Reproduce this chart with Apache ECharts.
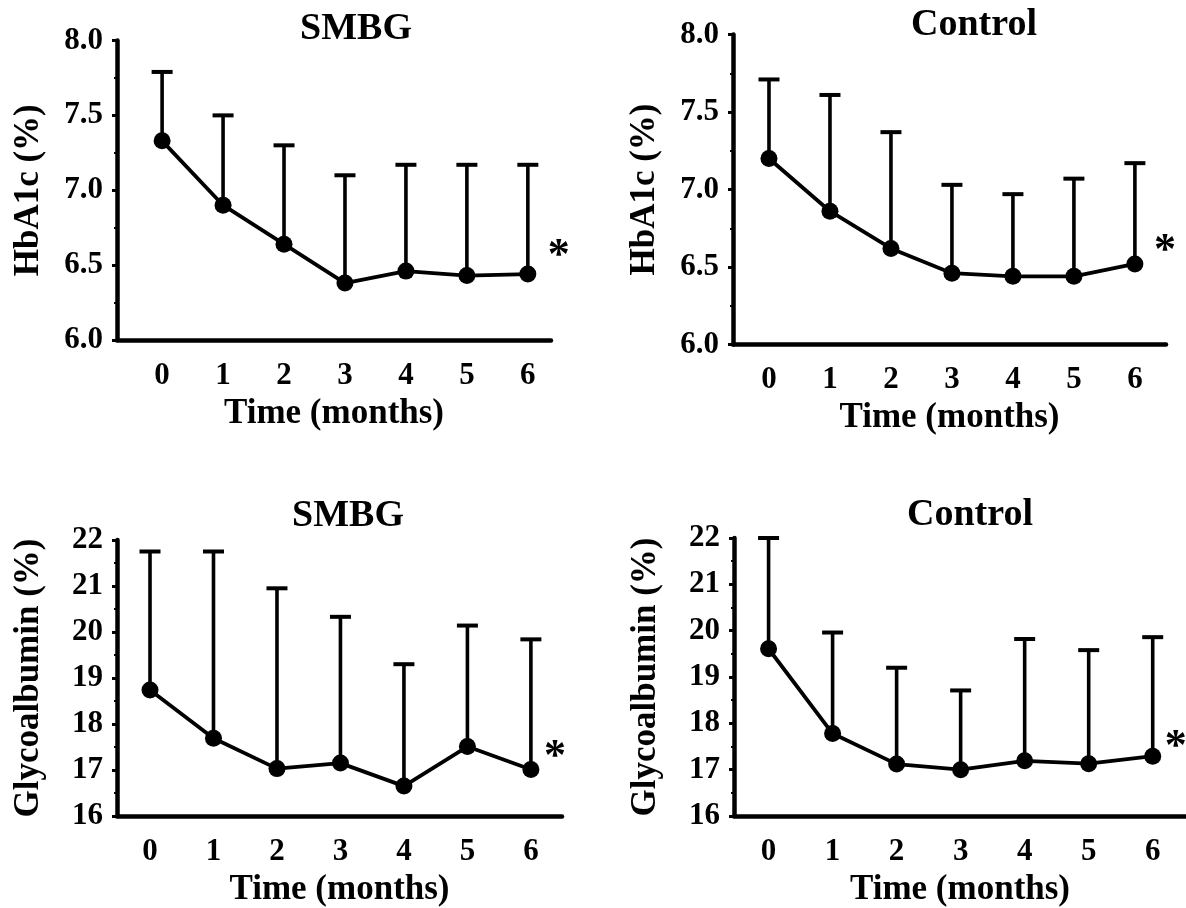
<!DOCTYPE html>
<html>
<head>
<meta charset="utf-8">
<script src="https://cdn.jsdelivr.net/npm/echarts@6/dist/echarts.min.js"></script>
<style>
  html, body { margin: 0; padding: 0; background: #fff; }
  #chart { width: 1186px; height: 908px; }
</style>
</head>
<body>
<div id="chart"></div>
<script>
// Follow-up visits, months
const months = [0, 1, 2, 3, 4, 5, 6];
const monthTicks = [0, 1, 2, 3, 4, 5, 6];

// HbA1c (%) — mean and mean + SD
const hba1cSmbgMean  = [7.33, 6.90, 6.64, 6.38, 6.46, 6.43, 6.44];
const hba1cSmbgUpper = [7.79, 7.50, 7.30, 7.10, 7.17, 7.17, 7.17];
const hba1cCtrlMean  = [7.20, 6.86, 6.62, 6.46, 6.44, 6.44, 6.52];
const hba1cCtrlUpper = [7.71, 7.61, 7.37, 7.03, 6.97, 7.07, 7.17];

// Glycoalbumin (%) — mean and mean + SD
const gaSmbgMean  = [18.74, 17.69, 17.03, 17.15, 16.65, 17.51, 17.01];
const gaSmbgUpper = [21.75, 21.75, 20.95, 20.33, 19.30, 20.14, 19.84];
const gaCtrlMean  = [19.61, 17.78, 17.12, 17.00, 17.19, 17.13, 17.29];
const gaCtrlUpper = [22.00, 19.96, 19.20, 18.71, 19.82, 19.58, 19.86];

const panelTitles = ['SMBG', 'Control', 'SMBG', 'Control'];
const yNames = ['HbA1c (%)', 'HbA1c (%)', 'Glycoalbumin (%)', 'Glycoalbumin (%)'];
const xName = 'Time (months)';
const significanceMark = '*';

const FONT = '"Liberation Serif", "Times New Roman", Times, serif';

// layout of each panel
const panels = [
  { grid: { left: 117, top: 40.5, width: 434, height: 299.5 }, xMin: -0.74, xMax: 6.38,
    yMin: 6, yMax: 8, yStep: 0.5, digits: 1, title: [351, 25], star: [31, -17],
    mean: hba1cSmbgMean, upper: hba1cSmbgUpper },
  { grid: { left: 733, top: 34.5, width: 433, height: 310 }, xMin: -0.59, xMax: 6.51,
    yMin: 6, yMax: 8, yStep: 0.5, digits: 1, title: [969, 21], star: [30, -12],
    mean: hba1cCtrlMean, upper: hba1cCtrlUpper },
  { grid: { left: 117, top: 540, width: 445, height: 279.5 }, xMin: -0.52, xMax: 6.49,
    yMin: 16, yMax: 22, yStep: 1, digits: 0, title: [343, 512], star: [24, -12],
    mean: gaSmbgMean, upper: gaSmbgUpper },
  { grid: { left: 734, top: 538, width: 452, height: 287 }, xMin: -0.54, xMax: 6.52,
    yMin: 16, yMax: 22, yStep: 1, digits: 0, title: [965, 511], star: [23, -9],
    mean: gaCtrlMean, upper: gaCtrlUpper }
];

const chart = echarts.init(document.getElementById('chart'), null, { renderer: 'canvas' });

const grids = [], xAxes = [], yAxes = [], series = [], titles = [];

panels.forEach((p, i) => {
  grids.push(Object.assign({ containLabel: false }, p.grid));

  titles.push({
    text: panelTitles[i],
    left: p.title[0],
    top: p.title[1] - 20,
    textAlign: 'center',
    textStyle: { fontFamily: FONT, fontWeight: 'bold', fontSize: 38, color: '#000' }
  });

  xAxes.push({
    type: 'value', gridIndex: i, min: p.xMin, max: p.xMax,
    name: xName, nameLocation: 'middle', nameGap: 56,
    nameTextStyle: { fontFamily: FONT, fontWeight: 'bold', fontSize: 35, color: '#000' },
    axisLine: { show: true, onZero: false, lineStyle: { color: '#000', width: 4.5 } },
    axisTick: { show: false },
    splitLine: { show: false },
    axisLabel: {
      customValues: monthTicks, margin: 20,
      fontFamily: FONT, fontWeight: 'bold', fontSize: 31, color: '#000'
    }
  });

  yAxes.push({
    type: 'value', gridIndex: i, min: p.yMin, max: p.yMax, interval: p.yStep,
    name: yNames[i], nameLocation: 'middle', nameGap: 71, nameRotate: 90,
    nameTextStyle: { fontFamily: FONT, fontWeight: 'bold', fontSize: 35, color: '#000' },
    axisLine: { show: true, onZero: false, lineStyle: { color: '#000', width: 4.5 } },
    axisTick: { show: true, length: 5, lineStyle: { color: '#000', width: 3 } },
    minorTick: { show: true, splitNumber: 2, length: 3, lineStyle: { color: '#000', width: 2 } },
    splitLine: { show: false },
    axisLabel: {
      margin: 14, fontFamily: FONT, fontWeight: 'bold', fontSize: 31, color: '#000',
      formatter: v => v.toFixed(p.digits)
    }
  });

  // upper SD whiskers with caps
  series.push({
    type: 'custom', xAxisIndex: i, yAxisIndex: i, silent: true, z: 2,
    data: months.map((m, k) => [m, p.mean[k], p.upper[k]]),
    encode: { x: 0, y: [1, 2] },
    renderItem: (params, api) => {
      const x = api.value(0);
      const base = api.coord([x, api.value(1)]);
      const top = api.coord([x, api.value(2)]);
      const hw = 10.5;
      return {
        type: 'group',
        children: [
          { type: 'line', shape: { x1: base[0], y1: base[1], x2: top[0], y2: top[1] },
            style: { stroke: '#000', lineWidth: 3.6 } },
          { type: 'line', shape: { x1: top[0] - hw, y1: top[1], x2: top[0] + hw, y2: top[1] },
            style: { stroke: '#000', lineWidth: 4 } }
        ]
      };
    }
  });

  // means
  series.push({
    type: 'line', xAxisIndex: i, yAxisIndex: i, z: 3,
    symbol: 'circle', symbolSize: 17, showAllSymbol: true,
    lineStyle: { color: '#000', width: 3.8 },
    itemStyle: { color: '#000' },
    animation: false,
    data: months.map((m, k) => {
      const item = { value: [m, p.mean[k]] };
      if (k === months.length - 1) {
        item.label = {
          show: true, formatter: significanceMark, position: 'inside',
          offset: p.star, fontFamily: FONT, fontWeight: 'bold', fontSize: 44, color: '#000'
        };
      }
      return item;
    })
  });
});

chart.setOption({
  animation: false,
  backgroundColor: '#fff',
  textStyle: { fontFamily: FONT },
  title: titles,
  grid: grids,
  xAxis: xAxes,
  yAxis: yAxes,
  series: series
});
</script>
</body>
</html>
